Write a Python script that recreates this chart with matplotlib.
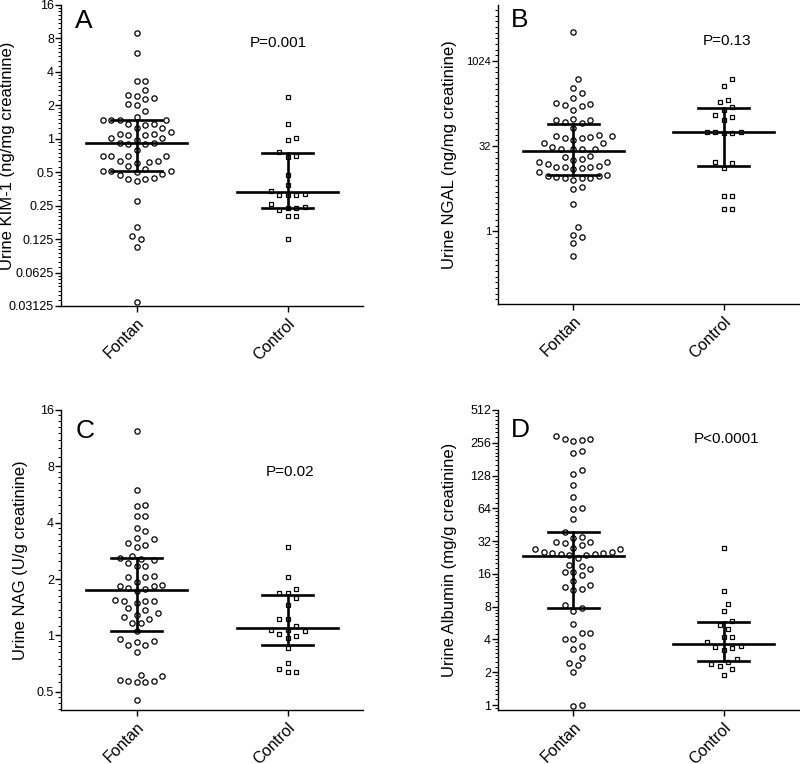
import matplotlib.pyplot as plt
import numpy as np
from matplotlib.ticker import LogLocator, FuncFormatter, NullFormatter

plt.rcParams['font.family'] = ['Liberation Sans', 'DejaVu Sans']

groups = ['Fontan', 'Control']

# values
kim_fontan = [9.0, 5.95, 3.33, 3.33, 2.74, 2.5, 2.42, 2.34, 2.26, 2.06, 2.01, 1.76, 1.58,
              1.46, 1.46, 1.46, 1.46, 1.35, 1.35, 1.33, 1.24, 1.25, 1.15, 1.1, 1.1, 1.07, 1.07,
              1.01, 1.01, 0.98, 0.91, 0.91, 0.90, 0.90, 0.80, 0.70, 0.70, 0.70, 0.70,
              0.63, 0.63, 0.62, 0.61, 0.566, 0.53, 0.51, 0.51, 0.51, 0.50, 0.48, 0.47,
              0.44, 0.43, 0.43, 0.42, 0.275, 0.16, 0.132, 0.125, 0.107, 0.034]
kim_control = [2.36, 1.37, 1.02, 0.98, 0.76, 0.70, 0.69, 0.47, 0.38, 0.34, 0.32, 0.31, 0.31,
               0.31, 0.26, 0.245, 0.24, 0.24, 0.23, 0.20, 0.20, 0.125]

ngal_fontan = [3330, 486, 347, 275, 228, 186, 179, 174, 165, 140, 98, 92, 92, 87, 81, 68,
               51, 49, 49, 47, 45, 44, 41, 37, 37, 31, 29, 29, 29, 29, 21.6, 21, 19, 17.9,
               17.1, 17.1, 15.2, 14, 13.8, 13.5, 13.5, 13.1, 12.6, 11.1, 10, 9.5, 9.5, 9.1,
               8.7, 8.7, 8.6, 8.0, 6.0, 5.6, 3.0, 1.19, 0.86, 0.81, 0.61, 0.36]
ngal_control = [487, 371, 210, 191, 157, 140, 114, 105, 91, 57, 57, 56, 55, 55, 16.5, 15.8,
                13.3, 4.2, 4.15, 2.5, 2.44]

nag_fontan = [12.35, 5.97, 5.0, 4.92, 4.35, 4.33, 3.77, 3.6, 3.33, 3.26, 3.12, 3.05, 2.95,
              2.67, 2.6, 2.57, 2.52, 2.43, 2.35, 2.35, 2.07, 2.04, 2.04, 1.94, 1.86, 1.84,
              1.84, 1.79, 1.77, 1.72, 1.55, 1.53, 1.53, 1.52, 1.49, 1.4, 1.36, 1.31, 1.29,
              1.25, 1.22, 1.17, 1.17, 1.06, 0.956, 0.93, 0.92, 0.89, 0.89, 0.82, 0.615,
              0.61, 0.58, 0.57, 0.57, 0.563, 0.562, 0.45]
nag_control = [2.95, 2.05, 1.77, 1.69, 1.69, 1.58, 1.46, 1.22, 1.22, 1.13, 1.07, 1.07, 1.055,
               1.02, 0.99, 0.965, 0.86, 0.71, 0.66, 0.64, 0.64]

alb_fontan = [298, 276, 276, 270, 266, 215, 205, 143, 131, 104, 82, 65, 63, 51.5, 39, 35,
              34.5, 31.5, 31.5, 31, 29.3, 27.7, 26.9, 26.9, 25.3, 25.3, 24.9, 24.9, 24.6,
              24.2, 23.6, 23.6, 22.6, 19.5, 19, 17.7, 16.7, 16.5, 15.5, 13.8, 12.7, 12,
              11.5, 11.4, 8.2, 7.7, 7.35, 5.5, 4.6, 4.6, 4.03, 4.03, 3.5, 3.27, 2.71, 2.41,
              2.33, 1.99, 1.01, 0.97]
alb_control = [27.7, 11.2, 8.5, 7.3, 5.9, 5.4, 4.96, 4.2, 4.2, 3.78, 3.5, 3.4, 3.37, 3.2,
               2.66, 2.5, 2.38, 2.26, 2.12, 1.9]

# median, q1, q3 for Fontan / Control
kim_stats = [(0.91, 0.51, 1.46), (0.33, 0.236, 0.75)]
ngal_stats = [(26.5, 9.7, 80), (57, 14, 154)]
nag_stats = [(1.74, 1.06, 2.6), (1.09, 0.89, 1.64)]
alb_stats = [(23.4, 7.7, 39), (3.67, 2.53, 5.78)]

p_values = ['P=0.001', 'P=0.13', 'P=0.02', 'P<0.0001']
letters = ['A', 'B', 'C', 'D']
ylabels = ['Urine KIM-1 (ng/mg creatinine)', 'Urine NGAL (ng/mg creatinine)',
           'Urine NAG (U/g creatinine)', 'Urine Albumin (mg/g creatinine)']


def swarm_offsets(ax, x0, vals, step=4.25, gap=8.3):
    vals = np.asarray(vals, dtype=float)
    pts = ax.transData.transform(np.column_stack([np.full(len(vals), x0), vals]))
    ys = pts[:, 1]
    unit = ax.transData.transform((1, 1))[0] - ax.transData.transform((0, 1))[0]
    placed = []
    offs = np.zeros(len(vals))
    for i in np.argsort(ys):
        for k in range(80):
            if k == 0:
                dx = 0.0
            elif k % 2:
                dx = step * ((k + 1) // 2)
            else:
                dx = -step * (k // 2)
            if all((dx - px) ** 2 + (ys[i] - py) ** 2 >= gap ** 2 for px, py in placed):
                break
        placed.append((dx, ys[i]))
        offs[i] = dx / unit
    return offs


fig = plt.figure(figsize=(8, 7.64), dpi=100)
rects = [[0.07625, 0.5995, 0.3775, 0.394],
         [0.6225, 0.6021, 0.37625, 0.3914],
         [0.07625, 0.0707, 0.3775, 0.3927],
         [0.6225, 0.0707, 0.37625, 0.3927]]
ylims = [(0.03125, 16), (0.052, 10000), (0.4, 16), (0.9, 512)]
data = [(kim_fontan, kim_control), (ngal_fontan, ngal_control),
        (nag_fontan, nag_control), (alb_fontan, alb_control)]
stats = [kim_stats, ngal_stats, nag_stats, alb_stats]
p_pos = [(0.72, 0.874), (0.76, 0.88), (0.758, 0.793), (0.76, 0.903)]
letter_pos = [(0.046, 0.924), (0.043, 0.926), (0.05, 0.907), (0.043, 0.91)]
label_x = [-0.152, -0.136, -0.109, -0.136]
fmt = FuncFormatter(lambda v, p: f'{v:g}')

for n in range(4):
    ax = fig.add_axes(rects[n])
    ax.set_yscale('log', base=2)
    ax.set_ylim(*ylims[n])
    ax.set_xlim(-0.5, 1.5)
    for s in ['top', 'right']:
        ax.spines[s].set_visible(False)
    for s in ['left', 'bottom']:
        ax.spines[s].set_linewidth(1.0)

    if n == 1:
        ax.yaxis.set_major_locator(LogLocator(base=32, numticks=20))
        ax.yaxis.set_minor_locator(LogLocator(base=2, subs=[1.0, 2 ** (1 / 3), 2 ** (2 / 3)], numticks=100))
        tsize = 8
    else:
        ax.yaxis.set_major_locator(LogLocator(base=2, numticks=40))
        ax.yaxis.set_minor_locator(LogLocator(base=2, subs=np.arange(1.125, 2, 0.125), numticks=100))
        tsize = 9
    ax.yaxis.set_major_formatter(fmt)
    ax.yaxis.set_minor_formatter(NullFormatter())
    ax.tick_params(axis='y', which='major', length=4, width=1, labelsize=tsize, pad=1)
    ax.tick_params(axis='y', which='minor', length=2, width=0.7)
    ax.set_xticks([0, 1])
    ax.set_xticklabels(groups, rotation=45, ha='right', rotation_mode='anchor', fontsize=11.5)
    ax.tick_params(axis='x', length=4, width=1, pad=3)

    fontan, control = data[n]
    for x0, vals, mk, ms in [(0, fontan, 'o', 3.8), (1, control, 's', 3.5)]:
        offs = swarm_offsets(ax, x0, vals)
        ax.plot(x0 + offs, vals, linestyle='none', marker=mk, ms=ms, mfc='white',
                mec='black', mew=0.9, zorder=2)

    for x0, (med, q1, q3) in zip([0, 1], stats[n]):
        ax.plot([x0 - 0.335, x0 + 0.335], [med, med], color='black', lw=1.9, zorder=3)
        ax.plot([x0 - 0.17, x0 + 0.17], [q1, q1], color='black', lw=1.9, zorder=3)
        ax.plot([x0 - 0.17, x0 + 0.17], [q3, q3], color='black', lw=1.9, zorder=3)
        ax.plot([x0, x0], [q1, q3], color='black', lw=1.9, zorder=3)

    ax.set_ylabel(ylabels[n], fontsize=12)
    ax.yaxis.set_label_coords(label_x[n], 0.5)
    ax.text(*p_pos[n], p_values[n], transform=ax.transAxes, ha='center', va='center', fontsize=11)
    ax.text(*letter_pos[n], letters[n], transform=ax.transAxes, ha='left', va='baseline', fontsize=19)

fig.savefig('out.png', dpi=100)
